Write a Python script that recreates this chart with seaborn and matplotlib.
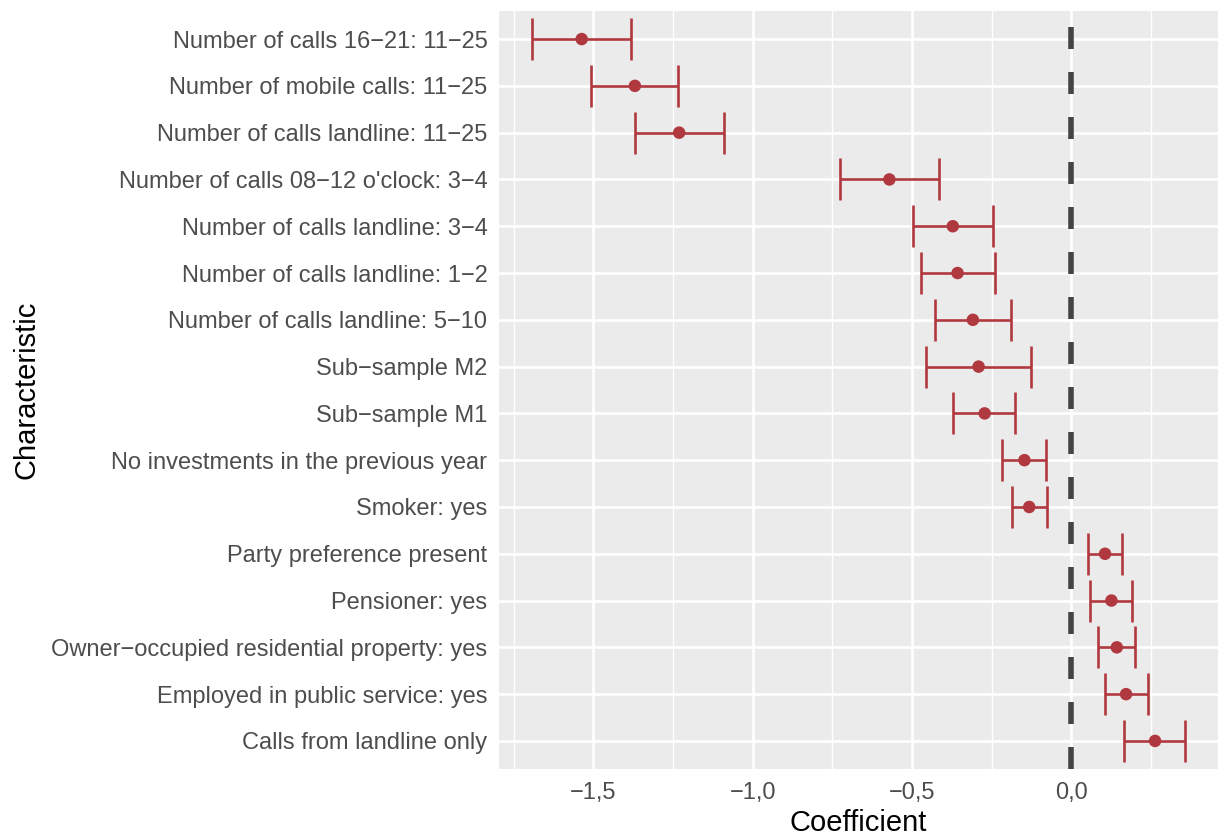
import matplotlib
matplotlib.use("Agg")
import matplotlib.pyplot as plt
import seaborn as sns
import pandas as pd
import numpy as np
from matplotlib.ticker import FixedLocator

characteristics = [
    "Number of calls 16\u221221: 11\u221225",
    "Number of mobile calls: 11\u221225",
    "Number of calls landline: 11\u221225",
    "Number of calls 08\u221212 o'clock: 3\u22124",
    "Number of calls landline: 3\u22124",
    "Number of calls landline: 1\u22122",
    "Number of calls landline: 5\u221210",
    "Sub\u2212sample M2",
    "Sub\u2212sample M1",
    "No investments in the previous year",
    "Smoker: yes",
    "Party preference present",
    "Pensioner: yes",
    "Owner\u2212occupied residential property: yes",
    "Employed in public service: yes",
    "Calls from landline only",
]
coef = [-1.537, -1.370, -1.231, -0.571, -0.372, -0.357, -0.309, -0.291,
        -0.272, -0.147, -0.132, 0.106, 0.126, 0.143, 0.172, 0.263]
ci_low = [-1.694, -1.508, -1.370, -0.725, -0.496, -0.472, -0.429, -0.457,
          -0.371, -0.216, -0.187, 0.051, 0.059, 0.085, 0.106, 0.166]
ci_high = [-1.381, -1.234, -1.091, -0.416, -0.245, -0.238, -0.188, -0.127,
           -0.176, -0.078, -0.075, 0.160, 0.192, 0.201, 0.241, 0.358]
x_ticks = [-1.5, -1.0, -0.5, 0.0]
x_tick_labels = ["\u22121,5", "\u22121,0", "\u22120,5", "0,0"]

df = pd.DataFrame({"Characteristic": characteristics, "Coefficient": coef,
                   "low": ci_low, "high": ci_high})

sns.set_theme(style="darkgrid")
plt.rcParams["font.family"] = ["Liberation Sans", "DejaVu Sans"]

W, H = 1218, 838
fig = plt.figure(figsize=(W / 100, H / 100), dpi=100)
left, right, top, bottom = 499, 1218, 11, 769
ax = fig.add_axes([left / W, (H - bottom) / H, (right - left) / W, (bottom - top) / H])
ax.set_facecolor("#EBEBEB")

red = "#B0383F"
ypos = np.arange(len(df))

# zero reference line
ax.axvline(0, color="#444444", lw=4.0, linestyle=(0, (3.96, 4.14)), zorder=2)

ax.errorbar(df["Coefficient"], ypos,
            xerr=[df["Coefficient"] - df["low"], df["high"] - df["Coefficient"]],
            fmt="none", ecolor=red, elinewidth=1.9, capsize=15, capthick=1.9, zorder=3)
sns.scatterplot(data=df, x="Coefficient", y="Characteristic", ax=ax, color=red,
                s=9.0 ** 2, edgecolor="none", linewidth=0, zorder=4, legend=False)

# scales
rng = max(ci_high) - min(ci_low)
ax.set_xlim(min(ci_low) - 0.05 * rng, max(ci_high) + 0.05 * rng)
ax.set_ylim(len(df) - 0.4, -0.6)
ax.set_yticks(ypos)
ax.set_yticklabels(characteristics)
ax.xaxis.set_major_locator(FixedLocator(x_ticks))
ax.set_xticklabels(x_tick_labels)
ax.xaxis.set_minor_locator(FixedLocator([-1.75, -1.25, -0.75, -0.25, 0.25]))

ax.grid(which="major", color="white", linewidth=1.9)
ax.grid(which="minor", axis="x", color="white", linewidth=0.95)
ax.set_axisbelow(True)
for s in ax.spines.values():
    s.set_visible(False)

ax.tick_params(axis="both", which="major", length=4.3, width=1.6, color="#333333",
               labelsize=17, labelcolor="#4D4D4D", pad=4)
ax.tick_params(axis="both", which="minor", length=0)
ax.tick_params(axis="x", pad=5)

ax.set_xlabel("Coefficient", fontsize=21, color="black", labelpad=4)
ax.set_ylabel("Characteristic", fontsize=21, color="black", labelpad=8)

fig.savefig("out.png", dpi=100)
